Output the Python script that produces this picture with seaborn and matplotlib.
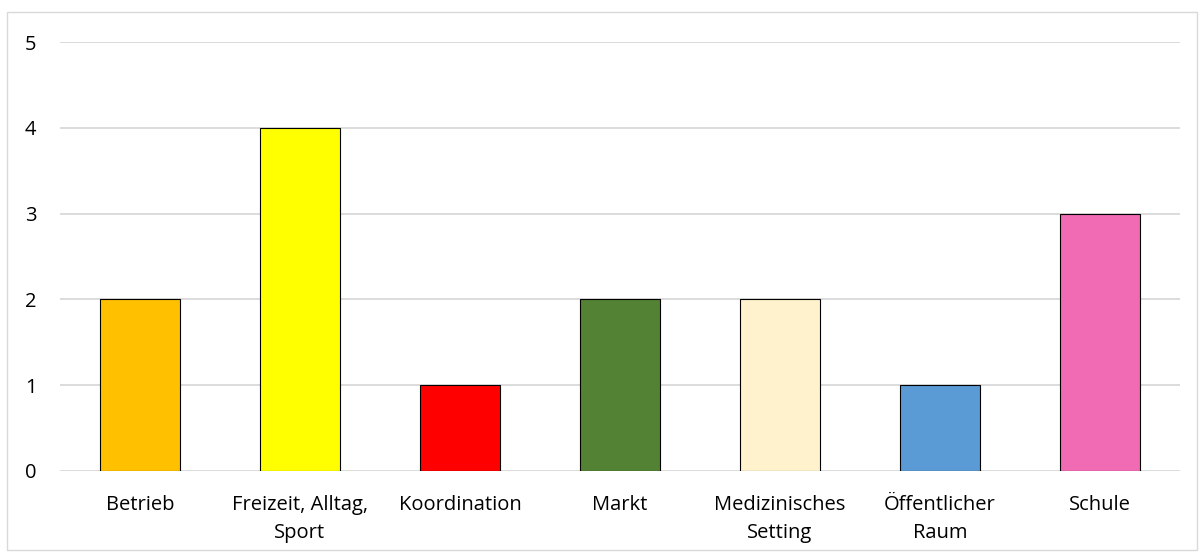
import matplotlib
matplotlib.use("Agg")
import matplotlib.pyplot as plt
import seaborn as sns
import pandas as pd
from matplotlib.patches import Rectangle

# Daten
categories = ["Betrieb", "Freizeit, Alltag,\nSport", "Koordination", "Markt",
              "Medizinisches\nSetting", "Öffentlicher\nRaum", "Schule"]
values = [2, 4, 1, 2, 2, 1, 3]
colors = ["#FFC000", "#FFFF00", "#FF0000", "#548235", "#FFF2CC", "#5B9BD5", "#F06BB4"]

df = pd.DataFrame({"Kategorie": categories, "Anzahl": values})

sns.set_theme(style="white")
plt.rcParams['font.family'] = ['Open Sans', 'DejaVu Sans']

fig = plt.figure(figsize=(12.04, 5.53), dpi=100)
ax = fig.add_axes([0.0498, 0.1483, 0.9302, 0.7757])

sns.barplot(data=df, x="Kategorie", y="Anzahl", hue="Kategorie", palette=colors,
            saturation=1, legend=False, width=0.5, edgecolor="black",
            linewidth=0.8, ax=ax, zorder=3)

ax.set_ylim(0, 5)
ax.set_xlim(-0.5, len(categories) - 0.5)
ax.set_yticks(range(6))
ax.set_xticks(range(len(categories)))
ax.set_xticklabels(categories, linespacing=1.55)
ax.yaxis.grid(True, color="#D9D9D9", linewidth=1.3, zorder=0)
ax.set_axisbelow(True)
for s in ax.spines.values():
    s.set_visible(False)
ax.set_xlabel("")
ax.set_ylabel("")
ax.tick_params(axis="both", length=0, labelsize=14.5, colors="#000000")
ax.tick_params(axis="y", pad=17)
ax.tick_params(axis="x", pad=17)

# Rahmen um das Diagramm
fig.patches.append(Rectangle((7 / 1204, 3 / 553), 1190 / 1204, 538 / 553,
                             transform=fig.transFigure, fill=False,
                             edgecolor="#D9D9D9", linewidth=1))

fig.savefig("out.png", dpi=100)
